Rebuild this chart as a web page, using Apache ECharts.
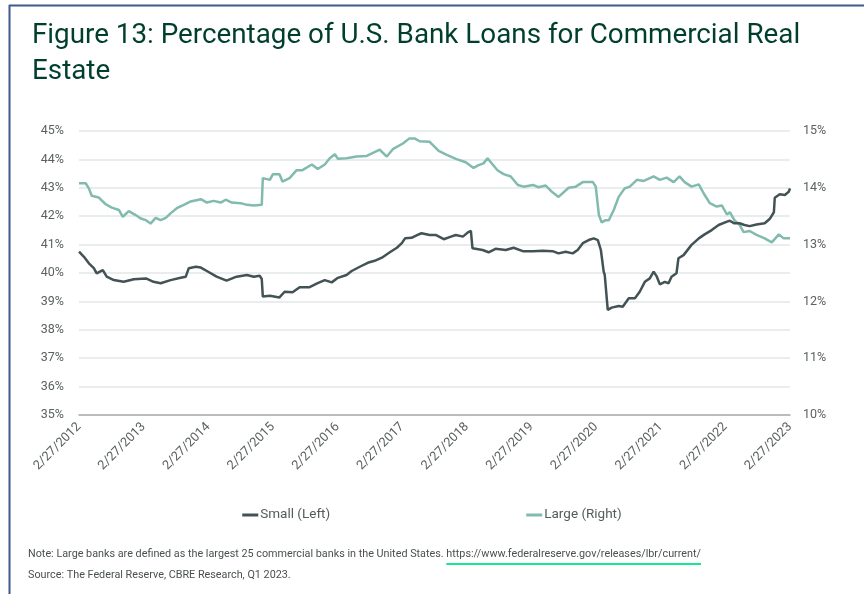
<!DOCTYPE html>
<html>
<head>
<meta charset="utf-8">
<script src="https://cdn.jsdelivr.net/npm/echarts@6/dist/echarts.min.js"></script>
<style>
html,body{margin:0;padding:0;background:#fff;}
#chart{width:864px;height:594px;}
</style>
</head>
<body>
<div id="chart"></div>
<script>
// ---- Data ----
var yearTickLabels = ['2/27/2012','2/27/2013','2/27/2014','2/27/2015','2/27/2016','2/27/2017','2/27/2018','2/27/2019','2/27/2020','2/27/2021','2/27/2022','2/27/2023'];

var smallDates = ['2012-02-27','2012-03-26','2012-04-23','2012-05-21','2012-06-06','2012-07-11','2012-08-02','2012-09-11','2012-11-06','2013-01-02','2013-03-12','2013-04-24','2013-06-03','2013-07-29','2013-09-24','2013-10-23','2013-11-09','2013-12-19','2014-01-16','2014-02-19','2014-04-15','2014-06-10','2014-08-06','2014-10-03','2014-11-11','2014-12-15','2014-12-26','2015-01-01','2015-02-10','2015-04-05','2015-05-04','2015-06-18','2015-07-28','2015-09-22','2015-11-07','2015-12-17','2016-01-25','2016-02-29','2016-04-18','2016-05-17','2016-07-02','2016-08-16','2016-09-24','2016-11-04','2016-12-19','2017-01-28','2017-02-25','2017-03-15','2017-04-21','2017-05-25','2017-06-16','2017-08-01','2017-09-04','2017-10-20','2017-11-29','2017-12-27','2018-02-05','2018-03-05','2018-03-22','2018-03-31','2018-05-27','2018-06-30','2018-08-08','2018-10-05','2018-11-18','2019-01-09','2019-03-07','2019-05-01','2019-06-26','2019-07-30','2019-09-08','2019-10-18','2019-11-15','2019-12-14','2020-01-16','2020-02-14','2020-03-08','2020-03-25','2020-04-10','2020-04-16','2020-05-03','2020-05-25','2020-07-04','2020-07-27','2020-08-30','2020-10-04','2020-10-31','2020-11-29','2020-12-27','2021-01-18','2021-02-05','2021-02-22','2021-03-22','2021-04-12','2021-04-29','2021-05-27','2021-06-07','2021-07-06','2021-08-20','2021-09-30','2021-11-02','2021-12-12','2022-01-20','2022-03-08','2022-03-24','2022-04-19','2022-05-18','2022-06-15','2022-07-14','2022-08-22','2022-10-07','2022-11-04','2022-11-28','2022-12-03','2022-12-31','2023-01-29','2023-02-20','2023-02-27'];
var smallValues = [40.75,40.57,40.34,40.17,39.99,40.10,39.87,39.75,39.69,39.78,39.81,39.69,39.64,39.75,39.83,39.87,40.17,40.22,40.19,40.07,39.87,39.73,39.87,39.93,39.87,39.90,39.79,39.17,39.20,39.14,39.34,39.32,39.50,39.50,39.64,39.75,39.67,39.83,39.93,40.07,40.22,40.36,40.43,40.54,40.73,40.89,41.05,41.22,41.24,41.34,41.40,41.34,41.34,41.19,41.28,41.34,41.28,41.43,41.48,40.87,40.81,40.73,40.85,40.81,40.89,40.77,40.77,40.78,40.77,40.69,40.75,40.69,40.81,41.05,41.16,41.22,41.16,40.81,40.05,39.93,38.70,38.78,38.84,38.81,39.11,39.11,39.34,39.69,39.81,40.05,39.87,39.60,39.69,39.64,39.87,39.99,40.52,40.63,40.99,41.22,41.36,41.51,41.69,41.81,41.84,41.75,41.75,41.69,41.65,41.71,41.75,41.90,42.14,42.65,42.77,42.75,42.86,42.98];

var largeDates = ['2012-02-27','2012-04-05','2012-04-23','2012-05-09','2012-06-17','2012-07-27','2012-08-31','2012-10-10','2012-11-01','2012-12-05','2013-01-13','2013-02-11','2013-03-12','2013-04-07','2013-05-06','2013-06-03','2013-07-02','2013-07-29','2013-09-02','2013-10-12','2013-11-20','2014-01-16','2014-02-19','2014-03-29','2014-05-08','2014-06-05','2014-07-09','2014-08-29','2014-10-03','2014-11-11','2014-12-26','2015-01-01','2015-02-10','2015-02-27','2015-04-05','2015-04-22','2015-06-01','2015-07-11','2015-08-13','2015-10-05','2015-11-07','2015-12-17','2016-01-14','2016-02-12','2016-02-29','2016-04-18','2016-06-14','2016-08-10','2016-10-23','2016-12-02','2017-01-05','2017-03-03','2017-04-09','2017-05-08','2017-06-05','2017-08-01','2017-09-21','2017-10-31','2017-12-27','2018-02-21','2018-04-06','2018-05-05','2018-06-01','2018-06-24','2018-07-23','2018-08-19','2018-09-23','2018-11-02','2018-12-12','2019-01-14','2019-03-07','2019-04-08','2019-05-18','2019-06-26','2019-07-30','2019-09-25','2019-11-04','2019-12-14','2020-02-09','2020-02-25','2020-03-14','2020-03-30','2020-04-21','2020-05-09','2020-06-06','2020-07-04','2020-08-07','2020-09-05','2020-10-15','2020-11-23','2021-01-18','2021-02-22','2021-04-01','2021-05-11','2021-06-13','2021-07-12','2021-08-20','2021-09-30','2021-10-28','2021-12-01','2022-01-09','2022-02-07','2022-03-08','2022-03-24','2022-04-19','2022-05-18','2022-06-10','2022-07-14','2022-08-22','2022-10-07','2022-11-16','2022-12-26','2023-01-22','2023-02-27'];
var largeValues = [14.08,14.08,13.99,13.86,13.83,13.71,13.65,13.61,13.49,13.59,13.52,13.46,13.43,13.37,13.47,13.43,13.47,13.55,13.64,13.70,13.76,13.80,13.74,13.77,13.74,13.79,13.74,13.73,13.70,13.69,13.70,14.17,14.14,14.24,14.24,14.11,14.17,14.31,14.31,14.41,14.33,14.41,14.52,14.59,14.51,14.52,14.55,14.56,14.67,14.55,14.68,14.78,14.87,14.87,14.82,14.81,14.65,14.59,14.51,14.45,14.35,14.40,14.43,14.52,14.41,14.31,14.24,14.20,14.05,14.02,14.05,14.01,14.04,13.92,13.84,14.00,14.02,14.10,14.10,14.02,13.52,13.39,13.43,13.43,13.61,13.84,13.99,14.02,14.14,14.12,14.20,14.14,14.18,14.10,14.20,14.10,14.02,14.06,13.90,13.73,13.67,13.69,13.53,13.57,13.43,13.35,13.22,13.24,13.17,13.11,13.04,13.18,13.11,13.11];

var seriesNames = ['Small (Left)', 'Large (Right)'];
var titleText = 'Figure 13: Percentage of U.S. Bank Loans for Commercial Real\nEstate';
var noteText = 'Note: Large banks are defined as the largest 25 commercial banks in the United States. ';
var linkText = 'https://www.federalreserve.gov/releases/lbr/current/';
var sourceText = 'Source: The Federal Reserve, CBRE Research, Q1 2023.';

// ---- Helpers ----
function feb27(y){ return Date.UTC(y, 1, 27); }
function toYearOffset(s){
  var p = s.split('-');
  var d = Date.UTC(+p[0], +p[1]-1, +p[2]);
  var y = +p[0];
  if (d < feb27(y)) y -= 1;
  return (y - 2012) + (d - feb27(y)) / (feb27(y+1) - feb27(y));
}
function pairs(dates, vals){
  return dates.map(function(d, i){ return [toYearOffset(d), vals[i]]; });
}

var FONT = 'Roboto';
var noteSize = 10.8;
var cv = document.createElement('canvas').getContext('2d');
cv.font = noteSize + 'px ' + FONT;
var noteW = cv.measureText(noteText).width;
var linkW = cv.measureText(linkText).width;
var noteX = 28;

var chart = echarts.init(document.getElementById('chart'), null, {renderer: 'canvas'});
chart.setOption({
  backgroundColor: '#ffffff',
  animation: false,
  textStyle: { fontFamily: FONT },
  title: {
    text: titleText,
    left: 27, top: 13,
    textStyle: { fontFamily: FONT, fontSize: 27.8, fontWeight: 'normal', color: '#003F2D', lineHeight: 36 }
  },
  legend: {
    data: seriesNames,
    left: 'center', top: 503,
    icon: 'rect',
    itemGap: 196, itemWidth: 16, itemHeight: 3,
    textStyle: { color: '#555c5c', fontSize: 13.5, fontFamily: FONT, padding: [0, 0, 0, -3] }
  },
  grid: { left: 79, right: 74, top: 131, bottom: 179, containLabel: false },
  xAxis: {
    type: 'value', min: 0, max: 11, interval: 1,
    axisLine: { show: true, lineStyle: { color: '#a9adad', width: 1.5 } },
    axisTick: { show: false },
    splitLine: { show: false },
    axisLabel: {
      rotate: 45, margin: 10, color: '#5b6161', fontSize: 12.8, fontFamily: FONT,
      formatter: function(v){ return yearTickLabels[Math.round(v)]; }
    }
  },
  yAxis: [
    {
      type: 'value', min: 35, max: 45, interval: 1, position: 'left',
      axisLine: { show: false }, axisTick: { show: false },
      splitLine: { show: true, lineStyle: { color: '#e3e7e7', width: 1.5 } },
      axisLabel: { formatter: '{value}%', color: '#5b6161', fontSize: 12.5, margin: 15, fontFamily: FONT }
    },
    {
      type: 'value', min: 10, max: 15, interval: 1, position: 'right',
      axisLine: { show: false }, axisTick: { show: false },
      splitLine: { show: false },
      axisLabel: { formatter: '{value}%', color: '#5b6161', fontSize: 12.5, margin: 13, fontFamily: FONT }
    }
  ],
  series: [
    {
      name: seriesNames[1], type: 'line', yAxisIndex: 1, symbol: 'none',
      data: pairs(largeDates, largeValues),
      lineStyle: { color: '#80BBAD', width: 2.5 }, itemStyle: { color: '#80BBAD' }
    },
    {
      name: seriesNames[0], type: 'line', yAxisIndex: 0, symbol: 'none',
      data: pairs(smallDates, smallValues),
      lineStyle: { color: '#435254', width: 2.5 }, itemStyle: { color: '#435254' }
    }
  ],
  graphic: [
    { type: 'line', shape: { x1: 9.5, y1: 5, x2: 9.5, y2: 594 }, style: { stroke: '#3D5B8E', lineWidth: 2 } },
    { type: 'line', shape: { x1: 9, y1: 5.5, x2: 864, y2: 5.5 }, style: { stroke: '#3D5B8E', lineWidth: 2 } },
    { type: 'text', left: noteX, top: 549, style: { text: noteText + linkText, font: noteSize + 'px ' + FONT, fill: '#4a4f4f' } },
    { type: 'line', shape: { x1: noteX + noteW, y1: 564, x2: noteX + noteW + linkW, y2: 564 }, style: { stroke: '#17E88F', lineWidth: 2 } },
    { type: 'text', left: noteX, top: 570, style: { text: sourceText, font: noteSize + 'px ' + FONT, fill: '#4a4f4f' } }
  ]
});
</script>
</body>
</html>
